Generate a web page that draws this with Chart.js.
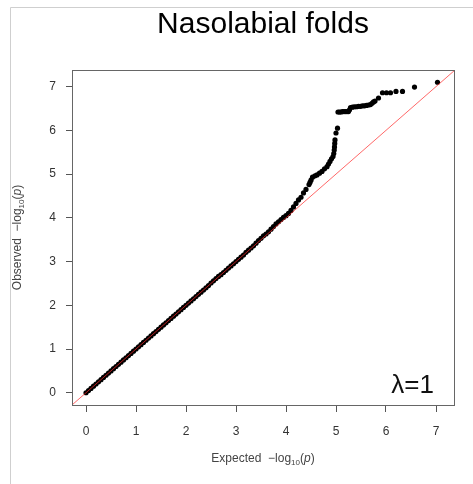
<!DOCTYPE html>
<html>
<head>
<meta charset="utf-8">
<script src="https://cdn.jsdelivr.net/npm/chart.js@4"></script>
<style>
  html, body { margin: 0; padding: 0; background: #fff; }
</style>
</head>
<body>
<canvas id="qq" width="473" height="484"></canvas>
<script>
// QQ plot values (expected vs observed -log10 p)
const expected = [
  0.00,0.05,0.10,0.15,0.20,0.25,0.30,0.35,0.40,0.45,
  0.50,0.55,0.60,0.65,0.70,0.75,0.80,0.85,0.90,0.95,
  1.00,1.05,1.10,1.15,1.20,1.25,1.30,1.35,1.40,1.45,
  1.50,1.55,1.60,1.65,1.70,1.75,1.80,1.85,1.90,1.95,
  2.00,2.05,2.10,2.15,2.20,2.25,2.30,2.35,2.40,2.45,
  2.50,2.55,2.60,2.65,2.70,2.75,2.80,2.85,2.90,2.95,
  3.00,3.05,3.10,3.15,3.20,3.25,3.30,3.35,3.40,3.45,
  3.50,3.55,3.60,3.65,3.70,
  3.75,3.80,3.85,3.90,3.95,4.00,4.05,4.10,4.15,4.20,4.25,4.30,4.35,4.40,
  4.46,4.48,4.50,4.53,4.58,4.62,4.67,4.72,4.77,4.82,4.85,4.88,4.91,4.94,4.955,4.965,4.97,4.975,4.98,
  5.00,5.03,
  5.04,5.07,5.10,5.13,5.16,5.19,5.22,5.25,
  5.27,5.29,
  5.33,5.37,5.41,5.45,5.49,5.53,5.57,5.61,5.65,
  5.69,5.72,5.75,5.78,
  5.85,5.93,6.01,6.09,6.20,6.33,6.57,7.03
];
const observed = [
  0.00,0.05,0.10,0.15,0.20,0.25,0.30,0.35,0.40,0.45,
  0.50,0.55,0.60,0.65,0.70,0.75,0.80,0.85,0.90,0.95,
  1.00,1.05,1.10,1.15,1.20,1.25,1.30,1.35,1.40,1.45,
  1.50,1.55,1.60,1.65,1.70,1.75,1.80,1.85,1.90,1.95,
  2.00,2.05,2.10,2.15,2.20,2.25,2.30,2.35,2.40,2.45,
  2.51,2.56,2.61,2.66,2.70,2.75,2.80,2.85,2.90,2.95,
  3.00,3.05,3.10,3.15,3.21,3.26,3.31,3.36,3.42,3.48,
  3.53,3.59,3.63,3.68,3.74,
  3.80,3.86,3.91,3.96,4.01,4.05,4.10,4.17,4.25,4.33,4.41,4.47,4.57,4.65,
  4.76,4.81,4.86,4.93,4.96,4.98,5.02,5.06,5.12,5.17,5.23,5.29,5.35,5.40,5.47,5.55,5.62,5.70,5.78,
  5.94,6.05,
  6.42,6.42,6.42,6.43,6.43,6.43,6.43,6.43,
  6.47,6.52,
  6.53,6.54,6.54,6.55,6.55,6.56,6.56,6.57,6.58,
  6.59,6.62,6.65,6.67,
  6.74,6.86,6.86,6.86,6.89,6.89,6.99,7.10
];
const tickValues = [0, 1, 2, 3, 4, 5, 6, 7];
const titleText = 'Nasolabial folds';
const lambdaText = '\u03bb=1';

const points = expected.map((e, i) => ({ x: e, y: observed[i] }));

// frame, plot box, axis titles and lambda label
const decorations = {
  id: 'decorations',
  beforeDraw(chart) {
    const ctx = chart.ctx;
    ctx.save();
    ctx.strokeStyle = '#cfcfcf';
    ctx.lineWidth = 1;
    ctx.beginPath();
    ctx.moveTo(10.5, 484);
    ctx.lineTo(10.5, 7.5);
    ctx.lineTo(473, 7.5);
    ctx.stroke();
    ctx.restore();
  },
  afterDraw(chart) {
    const ctx = chart.ctx;
    const a = chart.chartArea;
    ctx.save();
    ctx.strokeStyle = '#666';
    ctx.lineWidth = 1;
    ctx.strokeRect(Math.round(a.left) + 0.5, Math.round(a.top) + 0.5,
      Math.round(a.right - a.left), Math.round(a.bottom - a.top));

    const drawLogLabel = (word, cx, cy) => {
      const f = '12px "Liberation Sans", Arial, sans-serif';
      const fs = '8px "Liberation Sans", Arial, sans-serif';
      const fi = 'italic 12px "Liberation Sans", Arial, sans-serif';
      const parts = [
        [word + '  \u2212log', f, 0],
        ['10', fs, 3],
        ['(', f, 0],
        ['p', fi, 0],
        [')', f, 0]
      ];
      let w = 0;
      parts.forEach(p => { ctx.font = p[1]; w += ctx.measureText(p[0]).width; });
      let x = cx - w / 2;
      ctx.fillStyle = '#444';
      ctx.textBaseline = 'alphabetic';
      ctx.textAlign = 'left';
      parts.forEach(p => {
        ctx.font = p[1];
        ctx.fillText(p[0], x, cy + p[2]);
        x += ctx.measureText(p[0]).width;
      });
    };
    const mid = (a.left + a.right) / 2;
    drawLogLabel('Expected', mid, 462);
    ctx.save();
    ctx.translate(21, (a.top + a.bottom) / 2);
    ctx.rotate(-Math.PI / 2);
    drawLogLabel('Observed', 0, 0);
    ctx.restore();

    ctx.fillStyle = '#111';
    ctx.font = '26px "Liberation Sans", Arial, sans-serif';
    ctx.textAlign = 'right';
    ctx.textBaseline = 'alphabetic';
    ctx.fillText(lambdaText, 434, 393);
    ctx.restore();
  }
};

const axisColor = '#555';
const tickFont = { family: '"Liberation Sans", Arial, sans-serif', size: 12 };

new Chart(document.getElementById('qq'), {
  type: 'scatter',
  data: {
    datasets: [
      {
        type: 'line',
        data: [{ x: -0.5, y: -0.5 }, { x: 7.7, y: 7.7 }],
        borderColor: 'rgba(255, 40, 40, 0.7)',
        borderWidth: 1,
        pointRadius: 0,
        fill: false
      },
      {
        data: points,
        backgroundColor: '#000',
        borderWidth: 0,
        pointRadius: 2.6
      }
    ]
  },
  options: {
    responsive: false,
    animation: false,
    layout: { padding: { left: 0, right: 19, top: 0, bottom: 0 } },
    scales: {
      x: {
        type: 'linear',
        min: -0.28,
        max: 7.36,
        afterFit: (s) => { s.height = 79; },
        afterBuildTicks: (s) => { s.ticks = tickValues.map(v => ({ value: v })); },
        grid: { drawOnChartArea: false, drawTicks: true, tickLength: 7, color: axisColor },
        border: { display: false },
        ticks: { color: '#333', font: tickFont, padding: 12, maxRotation: 0 }
      },
      y: {
        type: 'linear',
        min: -0.28,
        max: 7.38,
        afterFit: (s) => { s.width = 72; },
        afterBuildTicks: (s) => { s.ticks = tickValues.map(v => ({ value: v })); },
        grid: { drawOnChartArea: false, drawTicks: true, tickLength: 6, color: axisColor },
        border: { display: false },
        ticks: { color: '#333', font: tickFont, padding: 10 }
      }
    },
    plugins: {
      legend: { display: false },
      tooltip: { enabled: false },
      title: {
        display: true,
        text: titleText,
        fullSize: false,
        color: '#000',
        font: { family: '"Liberation Sans", Arial, sans-serif', size: 30, weight: 'normal', lineHeight: 1.2 },
        padding: { top: 7, bottom: 27 }
      }
    }
  },
  plugins: [decorations]
});
</script>
</body>
</html>
